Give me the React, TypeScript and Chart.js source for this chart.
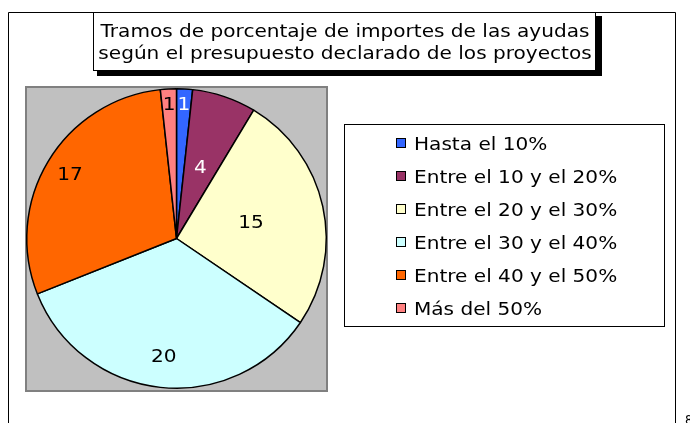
import React, { useEffect, useRef } from "react";
import { Chart, registerables } from "chart.js";

Chart.register(...registerables);

const TITLE_LINES = [
  "Tramos de porcentaje de importes de las ayudas",
  "según el presupuesto declarado de los proyectos",
];
const CATEGORIES = [
  "Hasta el 10%",
  "Entre el 10 y el 20%",
  "Entre el 20 y el 30%",
  "Entre el 30 y el 40%",
  "Entre el 40 y el 50%",
  "Más del 50%",
];
const VALUES = [1, 4, 15, 20, 17, 1];
const COLORS = ["#3366FF", "#993366", "#FFFFCC", "#CCFFFF", "#FF6600", "#FF8080"];
const LABEL_COLORS = ["#FFFFFF", "#FFFFFF", "#000000", "#000000", "#000000", "#000000"];
// label distance from centre as a fraction of the radius (layout only)
const LABEL_RADIUS_FRACTION = [0.9, 0.5, 0.51, 0.79, 0.83, 0.9];

const FONT = "18px 'DejaVu Sans', Verdana, sans-serif";
const STRETCH = 1.115;

function stretchedText(ctx: any, text: string, x: number, y: number, align: "left" | "center") {
  ctx.save();
  ctx.translate(x, y);
  ctx.scale(STRETCH, 1);
  ctx.textAlign = align;
  ctx.fillText(text, 0, 0);
  ctx.restore();
}

const decorPlugin = {
  id: "decor",
  beforeDraw(chart: any) {
    const ctx = chart.ctx;
    ctx.save();
    ctx.fillStyle = "#FFFFFF";
    ctx.fillRect(0, 0, chart.width, chart.height);
    // outer chart border
    ctx.strokeStyle = "#000000";
    ctx.lineWidth = 1;
    ctx.beginPath();
    ctx.moveTo(8.5, 430);
    ctx.lineTo(8.5, 12.5);
    ctx.lineTo(675.5, 12.5);
    ctx.lineTo(675.5, 430);
    ctx.stroke();
    // title box with shadow
    ctx.fillStyle = "#000000";
    ctx.fillRect(97, 16, 505, 60);
    ctx.fillStyle = "#FFFFFF";
    ctx.fillRect(93, 12, 503, 59);
    ctx.strokeRect(93.5, 12.5, 502, 58);
    ctx.fillStyle = "#000000";
    ctx.font = FONT;
    ctx.textBaseline = "alphabetic";
    stretchedText(ctx, TITLE_LINES[0], 345, 37, "center");
    stretchedText(ctx, TITLE_LINES[1], 345, 58.5, "center");
    // plot area
    ctx.fillStyle = "#C0C0C0";
    ctx.fillRect(26, 87, 301, 304);
    ctx.strokeStyle = "#808080";
    ctx.lineWidth = 2;
    ctx.strokeRect(26, 87, 301, 304);
    ctx.restore();
  },
  afterDatasetsDraw(chart: any) {
    const ctx = chart.ctx;
    const meta = chart.getDatasetMeta(0);
    ctx.save();
    ctx.font = FONT;
    ctx.textBaseline = "middle";
    meta.data.forEach((arc: any, i: number) => {
      const p = arc.getProps(["x", "y", "startAngle", "endAngle", "outerRadius"], true);
      const mid = (p.startAngle + p.endAngle) / 2;
      const r = p.outerRadius * LABEL_RADIUS_FRACTION[i];
      ctx.fillStyle = LABEL_COLORS[i];
      stretchedText(ctx, String(VALUES[i]), p.x + Math.cos(mid) * r, p.y + Math.sin(mid) * r + 1, "center");
    });
    ctx.restore();
  },
  afterDraw(chart: any) {
    const ctx = chart.ctx;
    ctx.save();
    // legend box
    ctx.fillStyle = "#FFFFFF";
    ctx.fillRect(344, 124, 321, 203);
    ctx.strokeStyle = "#000000";
    ctx.lineWidth = 1;
    ctx.strokeRect(344.5, 124.5, 320, 202);
    ctx.font = FONT;
    ctx.textBaseline = "alphabetic";
    CATEGORIES.forEach((c, i) => {
      const base = 150 + i * 33;
      ctx.fillStyle = COLORS[i];
      ctx.fillRect(396, base - 12, 10, 10);
      ctx.strokeStyle = "#000000";
      ctx.strokeRect(396.5, base - 11.5, 9, 9);
      ctx.fillStyle = "#000000";
      stretchedText(ctx, c, 414, base, "left");
    });
    ctx.font = "12px 'DejaVu Sans', sans-serif";
    ctx.textAlign = "left";
    ctx.fillText("8", 685, 424);
    ctx.restore();
  },
};

export default function App() {
  const ref = useRef<HTMLCanvasElement>(null);
  useEffect(() => {
    if (!ref.current) return;
    const chart = new Chart(ref.current, {
      type: "pie",
      data: {
        labels: CATEGORIES,
        datasets: [
          {
            data: VALUES,
            backgroundColor: COLORS,
            borderColor: "#000000",
            borderWidth: 1.5,
          },
        ],
      },
      options: {
        responsive: false,
        animation: false,
        layout: { padding: { left: 26, top: 87, right: 363, bottom: 33 } },
        plugins: {
          legend: { display: false },
          title: { display: false },
          tooltip: { enabled: false },
        },
      },
      plugins: [decorPlugin],
    });
    return () => chart.destroy();
  }, []);
  return (
    <div style={{ position: "absolute", left: 0, top: 0, width: 690, height: 423 }}>
      <canvas ref={ref} width={690} height={423} />
    </div>
  );
}
